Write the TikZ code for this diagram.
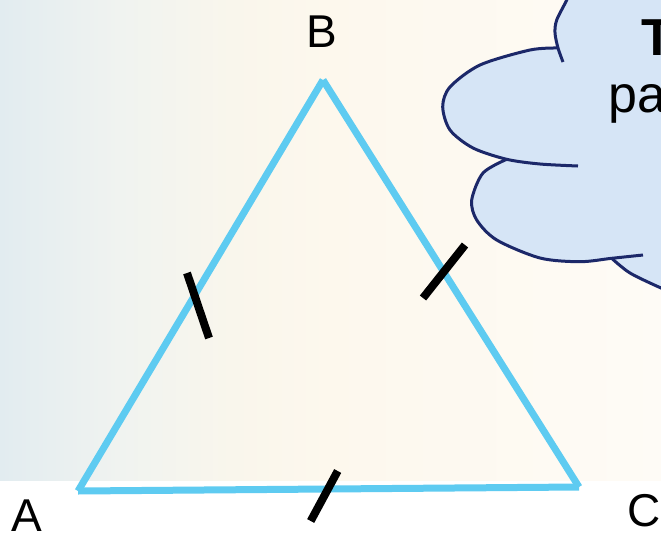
\documentclass[tikz,border=0pt]{standalone}
\usepackage{fontspec}
\setmainfont{Liberation Sans}
\definecolor{bgA}{RGB}{226,236,240}
\definecolor{bgB}{RGB}{240,243,240}
\definecolor{bgC}{RGB}{249,246,236}
\definecolor{bgD}{RGB}{253,248,237}
\definecolor{bgE}{RGB}{254,251,246}
\definecolor{triblue}{RGB}{94,203,241}
\definecolor{cloudfill}{RGB}{214,229,246}
\definecolor{cloudline}{RGB}{28,40,105}
\pgfdeclarehorizontalshading{bgshade}{100bp}{color(0bp)=(bgA); color(25bp)=(bgA); color(34bp)=(bgB); color(42.5bp)=(bgC); color(50bp)=(bgD); color(75bp)=(bgE); color(100bp)=(bgE)}
\tikzset{
  side/.style={draw=triblue, line width=7pt, line cap=butt},
  tickmark/.style={draw=black, line width=8pt},
  cloudstroke/.style={draw=cloudline, line width=3pt},
  vlabel/.style={anchor=base, inner sep=0pt, font=\fontsize{46}{50}\selectfont},
  cloudtext/.style={anchor=base west, inner sep=0pt, font=\fontsize{52}{60}\selectfont}
}
\begin{document}
\begin{tikzpicture}[x=1pt,y=-1pt]
\useasboundingbox (0,0) rectangle (661,533);
\clip (0,0) rectangle (661,533);
\fill[white] (0,0) rectangle (661,533);
\shade[shading=bgshade] (0,0) rectangle (661,480);

% cloud fill
\fill[cloudfill] (720,-40) -- (580,-40)
  -- plot[smooth] coordinates {(575,-20) (566.7,0) (556.7,20) (555,33) (558,48)}
  -- plot[smooth] coordinates {(558,48) (530,50) (480,65) (450,87) (442.7,106.7) (450,130) (473,148) (506.7,159.3)}
  -- plot[smooth] coordinates {(506.7,159.3) (483,173) (471.7,200) (476.7,220) (496.7,240) (540,258) (580,261.7) (611.7,258.3)}
  -- plot[smooth] coordinates {(611.7,258.3) (630,273) (661,288) (690,300)}
  -- (720,300) -- cycle;
% cloud outlines
\draw[cloudstroke] plot[smooth] coordinates {(575,-20) (566.7,0) (556.7,20) (555,33) (558,48) (563,62)};
\draw[cloudstroke] plot[smooth] coordinates {(558,48) (530,50) (480,65) (450,87) (442.7,106.7) (450,130) (473,148) (506.7,159.3) (540,164) (578,166)};
\draw[cloudstroke] plot[smooth] coordinates {(506.7,159.3) (483,173) (471.7,200) (476.7,220) (496.7,240) (540,258) (580,261.7) (611.7,258.3) (643,255)};
\draw[cloudstroke] plot[smooth] coordinates {(611.7,258.3) (630,273) (661,288) (690,300)};
\node[cloudtext, font=\fontsize{52}{60}\selectfont\bfseries] (t1) at (641,55) {T};
\node[cloudtext] (t2) at (608.6,112) {pa};

% triangle
\coordinate (A) at (78,491);
\coordinate (B) at (323,80);
\coordinate (C) at (579,487);
\draw[side] (A) -- (B);
\draw[side] (B) -- (C);
\draw[side] (A) -- (C);

% tick marks
\coordinate (k1a) at (187,273); \coordinate (k1b) at (209,338);
\coordinate (k2a) at (465,245); \coordinate (k2b) at (423,298);
\coordinate (k3a) at (337.7,471); \coordinate (k3b) at (310.7,521);
\draw[tickmark] (k1a) -- (k1b);
\draw[tickmark] (k2a) -- (k2b);
\draw[tickmark] (k3a) -- (k3b);

% vertex labels
\node[vlabel] (lA) at (26.5,531) {A};
\node[vlabel] (lB) at (321.5,47) {B};
\node[vlabel] (lC) at (644,526) {C};
\end{tikzpicture}
\end{document}
